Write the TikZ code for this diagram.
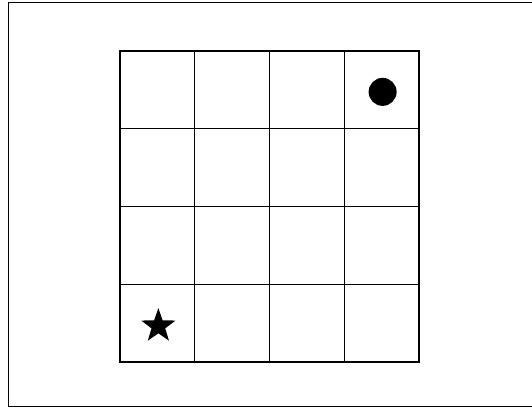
\documentclass[tikz,border=0pt]{standalone}
\usepackage{tikz}
\usetikzlibrary{shapes.geometric}

\begin{document}
\begin{tikzpicture}[
  x=1pt, y=1pt,
  cell/.style={rectangle, draw=black, line width=1.4pt, minimum width=74.75pt, minimum height=77.75pt, inner sep=0pt, outer sep=0pt},
  goal/.style={circle, fill=black, minimum size=28pt, inner sep=0pt},
  start/.style={star, star points=5, star point ratio=2.5, fill=black, minimum size=36pt, inner sep=0pt}
]
\useasboundingbox (0,0) rectangle (532,409);
% outer frame
\draw[line width=1pt] (532,406) -- (8,406) -- (8,2) -- (532,2);

% 4x4 grid
\foreach \i in {1,...,4}
  \foreach \j in {1,...,4}
    \node[cell] (c-\i-\j) at ({120+74.75*(\j-0.5)},{358-77.75*(\i-0.5)}) {};

\node[goal] (dot) at ([xshift=1pt,yshift=-2pt]c-1-4.center) {};
\node[start] (mark) at ([xshift=1pt,yshift=-3pt]c-4-1.center) {};
\end{tikzpicture}
\end{document}
